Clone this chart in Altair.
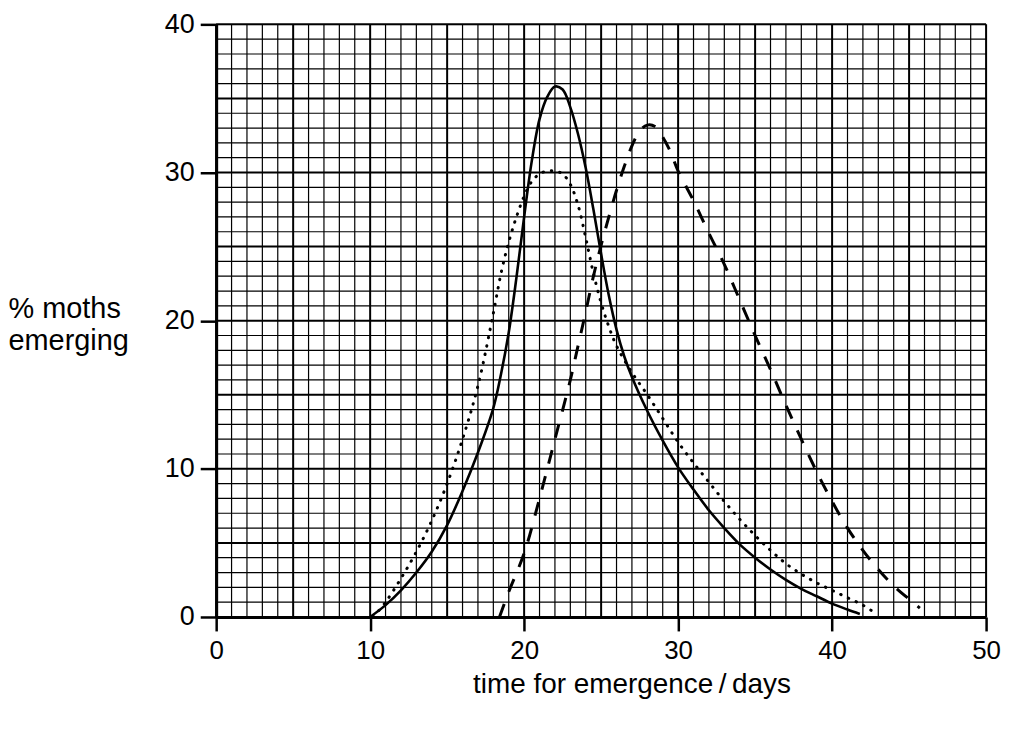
import altair as alt
import pandas as pd

# ---- data ----
solid_x = [10, 11, 12, 13, 14, 15, 16, 17, 18, 18.5, 19, 19.5, 20, 20.5, 21, 21.5, 22, 22.5, 23, 23.5, 24, 24.5, 25,
           25.5, 26, 26.5, 27, 28, 29, 30, 31, 32, 33, 34, 35, 36, 37, 38, 39, 40, 41, 41.8]
solid_y = [0, 0.8, 1.8, 3.0, 4.4, 6.2, 8.5, 11.1, 14.1, 16.4, 19.2, 22.9, 27.0, 30.8, 33.6, 35.1, 35.8, 35.6, 34.4, 32.6,
           30.3, 27.5, 24.5, 21.7, 19.4, 17.6, 16.2, 13.9, 11.9, 10.1, 8.6, 7.2, 6.0, 4.9, 4.0, 3.2, 2.5, 1.9, 1.4, 0.9, 0.5, 0.2]

dotted_x = [10.2, 11, 12, 13, 14, 15, 16, 17, 18, 18.5, 19, 19.5, 20, 20.5, 21, 21.5, 22, 22.5, 23, 23.5, 24, 24.5, 25,
            25.5, 26, 27, 28, 29, 30, 31, 32, 33, 34, 35, 36, 37, 38, 39, 40, 41, 42, 42.6]
dotted_y = [0, 1.0, 2.6, 4.4, 6.5, 9.0, 12.0, 15.6, 20.5, 23.2, 25.3, 27.0, 28.4, 29.4, 29.9, 30.1, 30.1, 29.9, 29.2, 27.8,
            25.6, 23.2, 21.2, 19.6, 18.3, 16.5, 15.0, 13.4, 11.8, 10.4, 9.1, 7.8, 6.6, 5.5, 4.5, 3.6, 2.9, 2.3, 1.8, 1.3, 0.8, 0.4]

dashed_x = [18.4, 19, 20, 21, 22, 23, 23.5, 24, 24.5, 25, 25.5, 26, 26.5, 27, 27.5, 28, 28.5, 29, 29.5, 30, 31, 32, 33,
            34, 35, 36, 37, 38, 39, 40, 41, 42, 43, 44, 45, 45.7]
dashed_y = [0, 1.7, 4.3, 8.0, 12.0, 16.0, 18.3, 20.6, 23.0, 25.1, 27.0, 28.8, 30.4, 31.8, 32.8, 33.2, 33.1, 32.4, 31.4, 30.1,
            28.1, 25.9, 23.8, 21.4, 19.0, 16.7, 14.3, 12.0, 9.8, 7.8, 6.0, 4.5, 3.2, 2.1, 1.2, 0.6]

x_ticks = [0, 10, 20, 30, 40, 50]
y_ticks = [0, 10, 20, 30, 40]
x_grid = list(range(0, 51))
y_grid = list(range(0, 41))

FONT = "Liberation Sans"
W, H = 773, 595

xs = alt.Scale(domain=[0, 50], nice=False, zero=False)
ys = alt.Scale(domain=[0, 40], nice=False, zero=False)

x_axis = alt.Axis(
    values=x_ticks, grid=False, domain=True, domainColor="black", domainWidth=3,
    ticks=True, tickSize=14, tickWidth=2.5, tickColor="black",
    labelFont=FONT, labelFontSize=26, labelColor="black", labelPadding=7, labelFlush=False,
    title="time for emergence\u2009/\u2009days", titleFont=FONT, titleFontSize=28,
    titleFontWeight="normal", titleColor="black", titleX=417, titleY=76,
    titleAlign="center", titleBaseline="alphabetic",
)
y_axis = alt.Axis(
    values=y_ticks, grid=False, domain=True, domainColor="black", domainWidth=3,
    ticks=True, tickSize=16, tickWidth=2.5, tickColor="black",
    labelFont=FONT, labelFontSize=27, labelColor="black", labelPadding=6, labelFlush=False,
    title=["% moths", "emerging"], titleFont=FONT, titleFontSize=29, titleFontWeight="normal",
    titleColor="black", titleAngle=0, titleAlign="left", titleBaseline="alphabetic",
    titleX=-209, titleY=294, titleLineHeight=32,
)

minor_x = [v for v in x_grid if v % 5]
major_x = [v for v in x_grid if v % 5 == 0]
minor_y = [v for v in y_grid if v % 5]
major_y = [v for v in y_grid if v % 5 == 0]

gx_minor = alt.Chart(pd.DataFrame({"x": minor_x})).mark_rule(color="black", strokeWidth=1.2).encode(
    x=alt.X("x:Q", scale=xs, axis=x_axis))
gx_major = alt.Chart(pd.DataFrame({"x": major_x})).mark_rule(color="black", strokeWidth=2).encode(
    x=alt.X("x:Q", scale=xs, axis=x_axis))
gy_minor = alt.Chart(pd.DataFrame({"y": minor_y})).mark_rule(color="black", strokeWidth=1.2).encode(
    y=alt.Y("y:Q", scale=ys, axis=y_axis))
gy_major = alt.Chart(pd.DataFrame({"y": major_y})).mark_rule(color="black", strokeWidth=2).encode(
    y=alt.Y("y:Q", scale=ys, axis=y_axis))


def curve(xv, yv, **mk):
    df = pd.DataFrame({"x": xv, "y": yv})
    return alt.Chart(df).mark_line(color="black", interpolate="catmull-rom", **mk).encode(
        x=alt.X("x:Q", scale=xs, axis=x_axis),
        y=alt.Y("y:Q", scale=ys, axis=y_axis),
        order="x:Q",
    )


solid = curve(solid_x, solid_y, strokeWidth=2.6)
dotted = curve(dotted_x, dotted_y, strokeWidth=3, strokeDash=[0.5, 8], strokeCap="round")
dashed = curve(dashed_x, dashed_y, strokeWidth=3, strokeDash=[14, 13])

chart = alt.layer(gx_minor, gx_major, gy_minor, gy_major, dotted, dashed, solid).properties(
    width=W, height=H,
    autosize=alt.AutoSizeParams(type="none"),
    padding={"left": 209, "top": 15, "right": 22, "bottom": 100},
).configure_view(stroke=None).configure(background="white")

chart.save("out.html", embed_options={"renderer": "svg", "actions": False})
